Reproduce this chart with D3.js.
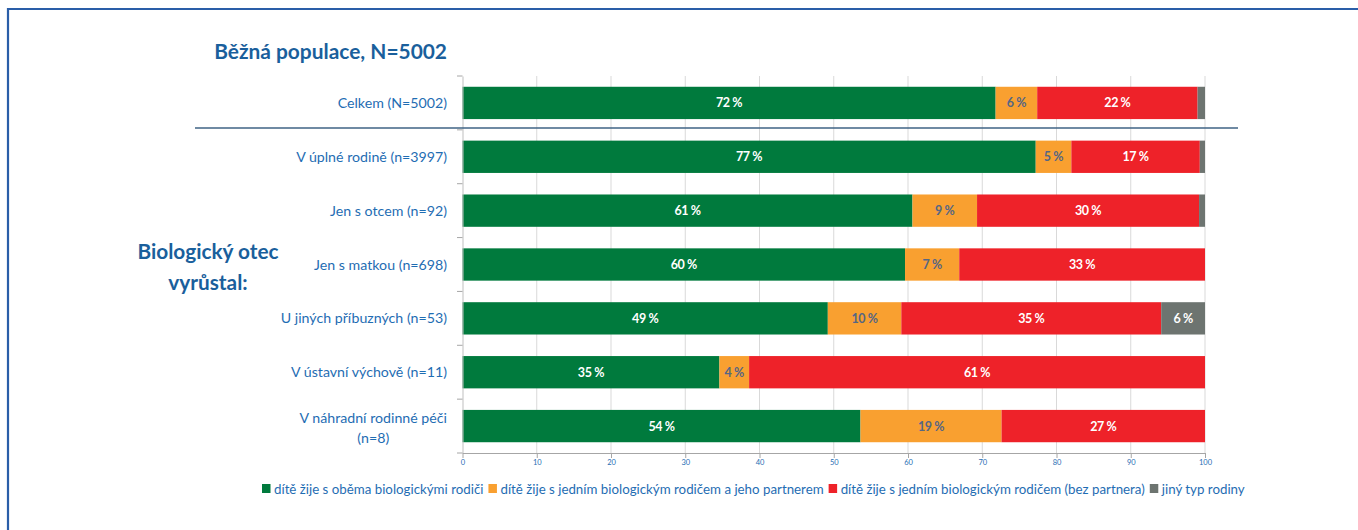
<!DOCTYPE html>
<html><head><meta charset="utf-8">
<script src="https://cdn.jsdelivr.net/npm/d3@7"></script>
<style>body{margin:0;background:#fff}svg{display:block}</style>
</head><body>
<script>
const categories = ["Celkem (N=5002)","V úplné rodině (n=3997)","Jen s otcem (n=92)","Jen s matkou (n=698)","U jiných příbuzných (n=53)","V ústavní výchově (n=11)","V náhradní rodinné péči|(n=8)"];
const seriesNames = ["dítě žije s oběma biologickými rodiči","dítě žije s jedním biologickým rodičem a jeho partnerem","dítě žije s jedním biologickým rodičem (bez partnera)","jiný typ rodiny"];
const bothParents = [71.8,77.2,60.6,59.6,49.2,34.6,53.6];
const parentPartner = [5.6,4.8,8.7,7.3,9.9,4.0,19.0];
const singleParent = [21.6,17.3,29.9,33.1,35.0,61.4,27.4];
const otherFamily = [1.0,0.7,0.8,0.0,5.9,0.0,0.0];
const xTicks = [0,10,20,30,40,50,60,70,80,90,100];
const colors = ["#007a3d","#f9a030","#ee2229","#6d7470"];
const labelColors = ["#ffffff","#566684","#ffffff","#ffffff"];

const W=1358,H=530;
const svg=d3.select("body").append("svg").attr("width",W).attr("height",H);
const font="Lato, 'Open Sans', sans-serif";
// frame
svg.append("line").attr("x1",8).attr("x2",W).attr("y1",9).attr("y2",9).attr("stroke","#2a5ea8").attr("stroke-width",2.2);
svg.append("line").attr("x1",8).attr("x2",8).attr("y1",8).attr("y2",H).attr("stroke","#2a5ea8").attr("stroke-width",2.2);

const x=d3.scaleLinear().domain([0,100]).range([462.5,1205]);
const y=d3.scaleBand().domain(categories).range([76,453]).paddingInner(0.4).paddingOuter(0.2);
const band=d3.scaleBand().domain(categories).range([76,453]);

// gridlines
svg.append("g").selectAll("line").data(xTicks.slice(1)).join("line")
 .attr("x1",d=>x(d)).attr("x2",d=>x(d)).attr("y1",76).attr("y2",453).attr("stroke","#d9d9d9").attr("stroke-width",1);

const data=categories.map((c,i)=>({cat:c,v:[bothParents[i],parentPartner[i],singleParent[i],otherFamily[i]]}));
const g=svg.append("g");
data.forEach(d=>{
  let acc=0;
  d.v.forEach((v,k)=>{
    const x0=acc; acc+=v;
    if(v<=0) return;
    g.append("rect").attr("x",x(x0)).attr("width",x(acc)-x(x0)).attr("y",y(d.cat)).attr("height",y.bandwidth()).attr("fill",colors[k]);
    if(v>=2.5){
      g.append("text").attr("x",(x(x0)+x(acc))/2).attr("y",y(d.cat)+y.bandwidth()/2).attr("dy","0.36em")
       .attr("text-anchor","middle").attr("fill",labelColors[k]).attr("font-family",font).attr("font-weight",700)
       .attr("font-size",12.5).attr("letter-spacing","-0.4").text(Math.round(v)+" %");
    }
  });
});

// left axis
const ya=svg.append("g").attr("transform","translate(462.5,0)").call(d3.axisLeft(band).tickValues([]).tickSize(0).tickSizeOuter(0));
ya.select(".domain").attr("stroke","#bfbfbf");
svg.append("g").selectAll("line").data(d3.range(8)).join("line")
 .attr("x1",457).attr("x2",462.5).attr("y1",i=>76+i*band.step()).attr("y2",i=>76+i*band.step()).attr("stroke","#a6a6a6");
// category labels
categories.forEach(c=>{
  const parts=c.split("|");
  const cy=band(c)+band.bandwidth()/2;
  const mk=()=>svg.append("text").attr("fill","#1f6db3").attr("font-family",font).attr("font-size",14.2);
  if(parts.length==1){ mk().attr("text-anchor","end").attr("x",447).attr("y",cy).attr("dy","0.36em").text(c); }
  else {
    const t1=mk().attr("text-anchor","end").attr("x",447).attr("y",cy-8).attr("dy","0.36em").text(parts[0]);
    const w=t1.node().getComputedTextLength();
    mk().attr("text-anchor","middle").attr("x",447-w/2).attr("y",cy+12).attr("dy","0.36em").text(parts[1]);
  }
});

// bottom axis
const xa=svg.append("g").attr("transform","translate(0,453)").call(d3.axisBottom(x).tickValues(xTicks).tickSize(5).tickSizeOuter(0));
xa.select(".domain").attr("stroke","#a6a6a6");
xa.selectAll(".tick line").attr("stroke","#a6a6a6");
xa.selectAll(".tick text").attr("fill","#1f6db3").attr("font-family",font).attr("font-size",7.5).attr("dy","0.2em").attr("y",10);

// separator
svg.append("line").attr("x1",195).attr("x2",1238).attr("y1",128).attr("y2",128).attr("stroke","#3f6385").attr("stroke-width",1.3);

// titles
svg.append("text").attr("x",447).attr("y",59).attr("text-anchor","end").attr("fill","#1a5f9c").attr("font-family",font).attr("font-weight",700).attr("font-size",20.9).text("Běžná populace, N=5002");
const bt=svg.append("text").attr("text-anchor","middle").attr("fill","#1a5f9c").attr("font-family",font).attr("font-weight",700).attr("font-size",20.8);
bt.append("tspan").attr("x",208).attr("y",259).text("Biologický otec");
bt.append("tspan").attr("x",208).attr("y",290).text("vyrůstal:");

// legend
const clip=svg.append("clipPath").attr("id","lc").append("rect").attr("x",0).attr("y",470).attr("width",1249).attr("height",40);
const lg=svg.append("g").attr("clip-path","url(#lc)");
let lx=262;
seriesNames.forEach((s,k)=>{
  lg.append("rect").attr("x",lx).attr("y",484).attr("width",8.5).attr("height",9).attr("fill",colors[k]);
  const t=lg.append("text").attr("x",lx+12).attr("y",489).attr("dy","0.36em").attr("fill","#1f6db3").attr("font-family",font).attr("font-size",13.3).text(s);
  lx+=12+t.node().getComputedTextLength()+5;
});
</script>
</body></html>
